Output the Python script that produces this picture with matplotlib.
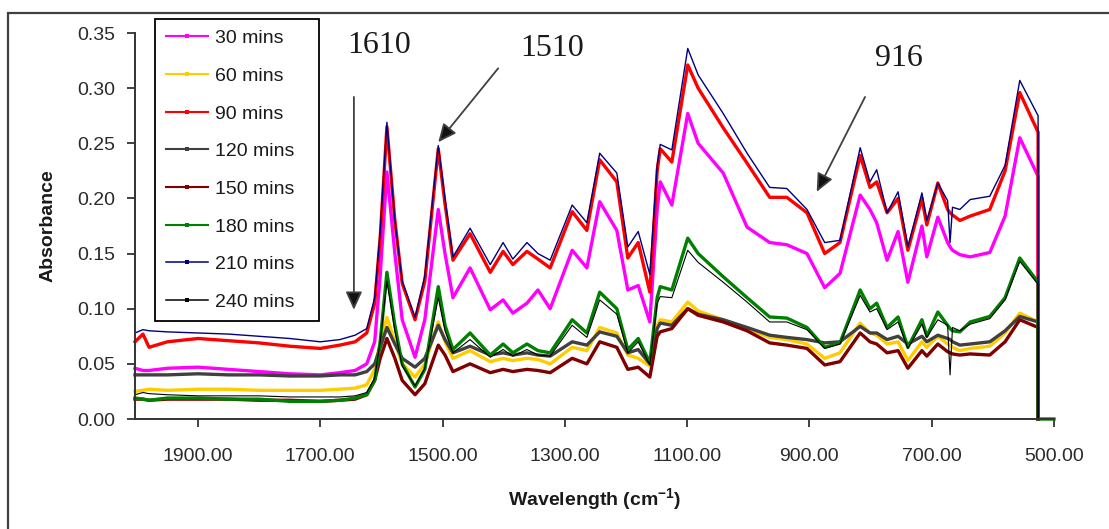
import numpy as np
import matplotlib
matplotlib.use("Agg")
import matplotlib.pyplot as plt
from matplotlib.lines import Line2D
from matplotlib.patches import Rectangle
from matplotlib.ticker import FixedLocator, FormatStrFormatter

# ---------------- data ----------------
wavenumber = [2003, 1990, 1980, 1950, 1900, 1850, 1800, 1750, 1700, 1668, 1643, 1624,
              1611, 1602, 1591, 1578, 1566, 1545, 1529, 1507,
              1496, 1483, 1455, 1422, 1401, 1385, 1362, 1344, 1324, 1288,
              1264, 1243, 1215, 1197, 1180, 1161, 1149, 1144, 1125, 1099,
              1082, 1041, 1002, 965, 937, 904, 875, 850, 817, 801,
              790, 773, 755, 739, 716, 708, 690, 674, 670, 666,
              654, 637, 605, 580, 556, 526]

abs_30 = [0.046, 0.044, 0.044, 0.046, 0.047, 0.045, 0.043, 0.041, 0.040, 0.042, 0.044, 0.050,
          0.070, 0.130, 0.224, 0.150, 0.090, 0.056, 0.090, 0.190,
          0.150, 0.110, 0.137, 0.099, 0.108, 0.096, 0.105, 0.117, 0.100, 0.153,
          0.137, 0.197, 0.171, 0.117, 0.121, 0.088, 0.190, 0.215, 0.194, 0.277,
          0.250, 0.223, 0.174, 0.160, 0.158, 0.150, 0.119, 0.132, 0.203, 0.190,
          0.178, 0.144, 0.170, 0.124, 0.175, 0.147, 0.183, 0.160, 0.156, 0.153,
          0.149, 0.147, 0.151, 0.184, 0.255, 0.220]
abs_60 = [0.025, 0.026, 0.027, 0.026, 0.027, 0.027, 0.026, 0.026, 0.026, 0.027, 0.028, 0.031,
          0.045, 0.070, 0.092, 0.070, 0.050, 0.038, 0.050, 0.088,
          0.070, 0.055, 0.062, 0.052, 0.055, 0.053, 0.055, 0.054, 0.050, 0.065,
          0.062, 0.083, 0.078, 0.058, 0.055, 0.048, 0.085, 0.090, 0.088, 0.106,
          0.098, 0.090, 0.082, 0.074, 0.072, 0.068, 0.055, 0.060, 0.087, 0.078,
          0.076, 0.068, 0.070, 0.053, 0.070, 0.065, 0.075, 0.068, 0.067, 0.065,
          0.062, 0.064, 0.066, 0.078, 0.096, 0.088]
abs_90 = [0.070, 0.077, 0.065, 0.070, 0.073, 0.071, 0.069, 0.066, 0.064, 0.067, 0.070, 0.078,
          0.105, 0.165, 0.265, 0.180, 0.123, 0.090, 0.125, 0.245,
          0.195, 0.144, 0.168, 0.133, 0.152, 0.140, 0.152, 0.145, 0.137, 0.188,
          0.171, 0.235, 0.215, 0.146, 0.160, 0.115, 0.225, 0.245, 0.233, 0.321,
          0.300, 0.264, 0.232, 0.201, 0.201, 0.187, 0.150, 0.160, 0.239, 0.210,
          0.215, 0.187, 0.200, 0.153, 0.200, 0.176, 0.214, 0.190, 0.187, 0.185,
          0.180, 0.184, 0.190, 0.225, 0.296, 0.260]
abs_120 = [0.040, 0.040, 0.040, 0.040, 0.041, 0.040, 0.040, 0.039, 0.039, 0.040, 0.040, 0.043,
           0.050, 0.065, 0.083, 0.068, 0.055, 0.047, 0.055, 0.085,
           0.072, 0.060, 0.066, 0.058, 0.060, 0.058, 0.060, 0.058, 0.057, 0.070,
           0.067, 0.079, 0.075, 0.060, 0.063, 0.050, 0.082, 0.087, 0.085, 0.100,
           0.095, 0.090, 0.083, 0.076, 0.074, 0.072, 0.069, 0.070, 0.084, 0.078,
           0.078, 0.072, 0.075, 0.068, 0.075, 0.070, 0.076, 0.073, 0.072, 0.070,
           0.067, 0.068, 0.070, 0.080, 0.093, 0.088]
abs_150 = [0.018, 0.018, 0.017, 0.018, 0.018, 0.018, 0.017, 0.017, 0.016, 0.017, 0.018, 0.022,
           0.035, 0.055, 0.073, 0.055, 0.035, 0.022, 0.032, 0.067,
           0.058, 0.043, 0.050, 0.042, 0.045, 0.043, 0.045, 0.044, 0.042, 0.055,
           0.050, 0.070, 0.065, 0.045, 0.047, 0.038, 0.075, 0.079, 0.082, 0.100,
           0.094, 0.088, 0.080, 0.069, 0.067, 0.064, 0.049, 0.052, 0.078, 0.070,
           0.068, 0.060, 0.062, 0.046, 0.062, 0.057, 0.068, 0.061, 0.060, 0.059,
           0.058, 0.059, 0.058, 0.070, 0.090, 0.083]
abs_180 = [0.019, 0.018, 0.017, 0.019, 0.019, 0.018, 0.018, 0.016, 0.016, 0.017, 0.019, 0.022,
           0.035, 0.070, 0.133, 0.085, 0.050, 0.029, 0.045, 0.120,
           0.085, 0.063, 0.078, 0.058, 0.068, 0.060, 0.068, 0.062, 0.060, 0.090,
           0.078, 0.115, 0.100, 0.063, 0.073, 0.051, 0.110, 0.120, 0.117, 0.164,
           0.150, 0.129, 0.110, 0.0925, 0.0915, 0.083, 0.065, 0.069, 0.117, 0.100,
           0.105, 0.083, 0.0925, 0.065, 0.090, 0.075, 0.097, 0.085, 0.082, 0.080,
           0.079, 0.088, 0.093, 0.110, 0.146, 0.124]
abs_210 = [0.078, 0.081, 0.080, 0.079, 0.078, 0.077, 0.075, 0.073, 0.070, 0.072, 0.076, 0.082,
           0.110, 0.170, 0.269, 0.180, 0.125, 0.092, 0.130, 0.248,
           0.200, 0.147, 0.173, 0.140, 0.160, 0.145, 0.160, 0.150, 0.144, 0.194,
           0.178, 0.241, 0.223, 0.156, 0.170, 0.131, 0.230, 0.249, 0.244, 0.336,
           0.312, 0.277, 0.241, 0.210, 0.209, 0.190, 0.160, 0.162, 0.246, 0.215,
           0.226, 0.187, 0.206, 0.156, 0.205, 0.180, 0.214, 0.198, 0.160, 0.192,
           0.190, 0.199, 0.202, 0.230, 0.307, 0.275]
abs_240 = [0.022, 0.024, 0.023, 0.022, 0.021, 0.021, 0.021, 0.020, 0.020, 0.020, 0.021, 0.024,
           0.037, 0.070, 0.125, 0.080, 0.048, 0.030, 0.046, 0.110,
           0.080, 0.060, 0.072, 0.056, 0.063, 0.057, 0.063, 0.058, 0.057, 0.085,
           0.074, 0.108, 0.095, 0.060, 0.070, 0.049, 0.105, 0.111, 0.110, 0.153,
           0.142, 0.124, 0.106, 0.088, 0.088, 0.081, 0.064, 0.068, 0.112, 0.097,
           0.100, 0.081, 0.088, 0.064, 0.086, 0.074, 0.090, 0.085, 0.040, 0.083,
           0.080, 0.086, 0.091, 0.108, 0.143, 0.122]

# every trace drops to zero at its last point; the 180-min trace runs on to 500 at zero
drop_wn = 526
green_tail_wn = 500

series_labels = ["30 mins", "60 mins", "90 mins", "120 mins",
                 "150 mins", "180 mins", "210 mins", "240 mins"]
series_values = [abs_30, abs_60, abs_90, abs_120, abs_150, abs_180, abs_210, abs_240]
series_colors = ["#FF00FF", "#FFCC00", "#FF0000", "#404040",
                 "#800000", "#008000", "#000080", "#000000"]
series_widths = [2.4, 2.4, 2.4, 2.4, 2.4, 2.4, 1.0, 0.8]

x_ticks = [1900, 1700, 1500, 1300, 1100, 900, 700, 500]
y_ticks = [0.00, 0.05, 0.10, 0.15, 0.20, 0.25, 0.30, 0.35]

# peak annotations: label, text position, arrow tail, arrow tip
annotations = [
    ("1610", (1604, 0.339), (1645, 0.292), (1645, 0.099)),
    ("1510", (1321, 0.336), (1409, 0.318), (1507, 0.251)),
    ("916", (753, 0.327), (809, 0.292), (888, 0.206)),
]

# ---------------- figure ----------------
W, H = 1109, 529
plt.rcParams["font.family"] = ["Liberation Sans", "DejaVu Sans"]
plt.rcParams["mathtext.fontset"] = "custom"
plt.rcParams["mathtext.rm"] = "Liberation Sans"
plt.rcParams["mathtext.bf"] = "Liberation Sans:bold"

fig = plt.figure(figsize=(W / 100, H / 100), dpi=100)
ax_left, ax_right, ax_top, ax_bottom = 135, 1054, 33, 419
ax = fig.add_axes([ax_left / W, 1 - ax_bottom / H,
                   (ax_right - ax_left) / W, (ax_bottom - ax_top) / H])

handles = []
for lab, vals, col, lw in zip(series_labels, series_values, series_colors, series_widths):
    xs = list(wavenumber) + [drop_wn]
    ys = list(vals) + [0.0]
    if lab == "180 mins":
        xs = xs + [green_tail_wn]
        ys = ys + [0.0]
    ax.plot(xs, ys, color=col, lw=lw, solid_joinstyle="round", clip_on=False)
    handles.append(Line2D([], [], color=col, lw=1.5 if lw > 1.5 else 1.1,
                          marker="s", markersize=2.8, markeredgewidth=0))

ax.set_xlim(2003, 500)
ax.set_ylim(0, 0.35)
ax.xaxis.set_major_locator(FixedLocator(x_ticks))
ax.yaxis.set_major_locator(FixedLocator(y_ticks))
ax.xaxis.set_major_formatter(FormatStrFormatter("%.2f"))
ax.yaxis.set_major_formatter(FormatStrFormatter("%.2f"))

for s in ["top", "right"]:
    ax.spines[s].set_visible(False)
for s in ["left", "bottom"]:
    ax.spines[s].set_color("#333333")
    ax.spines[s].set_linewidth(1.4)
ax.tick_params(axis="both", direction="out", length=6, width=1.3,
               color="#333333", labelcolor="#2a2a2a", labelsize=14)
ax.tick_params(axis="x", pad=15)
ax.tick_params(axis="y", pad=8)

ax.set_ylabel("Absorbance", fontsize=14, fontweight="bold", color="#1a1a1a")
ax.yaxis.set_label_coords(-0.085, 0.5)
ax.set_xlabel(r"Wavelength (cm$^{\mathbf{-1}}$)", fontsize=14, fontweight="bold",
              color="#1a1a1a")
ax.xaxis.set_label_coords(0.5, -0.175)

for text, tpos, tail, tip in annotations:
    ax.annotate("", xy=tip, xytext=tail,
                arrowprops=dict(arrowstyle="-|>,head_length=0.55,head_width=0.25",
                                mutation_scale=20, lw=1.3, color="#404040",
                                fc="#111111", shrinkA=0, shrinkB=0),
                annotation_clip=False)
    ax.text(tpos[0], tpos[1], text, fontsize=23, family="Liberation Serif",
            color="#1a1a1a", ha="center", va="center")

leg = ax.legend(handles, series_labels, loc="upper left",
                bbox_to_anchor=(155 / W, 1 - 319 / H, 164 / W, 300 / H),
                bbox_transform=fig.transFigure, mode="expand",
                borderaxespad=0, fontsize=14, numpoints=1,
                handlelength=2.2, handletextpad=0.36, labelspacing=1.03,
                borderpad=0.55, fancybox=False, framealpha=1, edgecolor="#000000")
leg.get_frame().set_linewidth(1.3)
for t in leg.get_texts():
    t.set_color("#1a1a1a")

fig.add_artist(Rectangle((8 / W, -0.1), 1.2, (1 - 13 / H) + 0.1,
                         transform=fig.transFigure, fill=False,
                         ec="#404040", lw=1.6))

fig.savefig("out.png", dpi=100)
